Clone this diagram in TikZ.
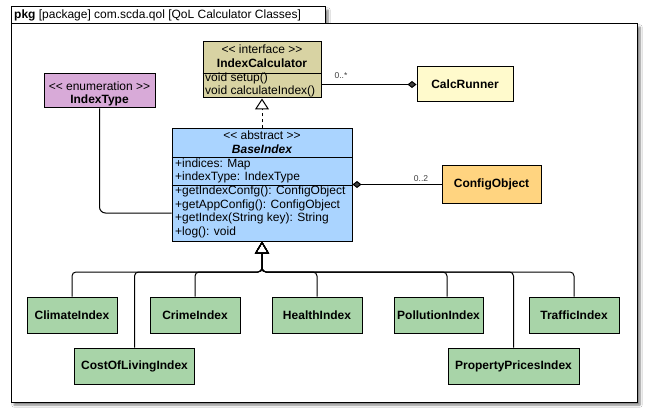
\documentclass[tikz,border=0pt]{standalone}
\usepackage{fontspec}
\setmainfont{Liberation Sans}
\usetikzlibrary{arrows.meta,shadows.blur}
\definecolor{ifcol}{RGB}{216,211,163}
\definecolor{runcol}{RGB}{255,250,204}
\definecolor{enumcol}{RGB}{216,170,216}
\definecolor{abscol}{RGB}{170,212,255}
\definecolor{cfgcol}{RGB}{255,212,128}
\definecolor{leafcol}{RGB}{168,212,168}
\begin{document}
\begin{tikzpicture}[x=1pt,y=-1pt,
  font=\fontsize{12}{14}\selectfont,
  box/.style={draw=black, line width=1pt, inner sep=0pt},
  leaf/.style={box, fill=leafcol, minimum height=36pt, font=\bfseries\fontsize{12}{14}\selectfont},
  txt/.style={inner sep=0pt},
  mem/.style={inner sep=0pt, anchor=west},
  lbl/.style={inner sep=0pt, font=\fontsize{8.5}{10}\selectfont, text=black!75},
  wire/.style={line width=1pt},
  gen/.style={wire, rounded corners=4pt, -{Triangle[open,length=12pt,width=14pt]}},
]
\fill[white] (0,0) rectangle (648,417);
\useasboundingbox (0,0) rectangle (648,417);
% package frame
\path[fill=white, blur shadow={shadow xshift=3pt, shadow yshift=-3pt, shadow blur steps=6, shadow opacity=50}]
  (11,7) -- (325,7) -- (325,24) -- (637,24) -- (637,402) -- (11,402) -- cycle;
\draw[line width=1pt] (11,7) -- (325,7) -- (325,24) -- (637,24) -- (637,402) -- (11,402) -- cycle;
\draw[line width=1pt] (11,24) -- (325,24);
\node[txt, anchor=west] (pkg) at (14,15.5) {\textbf{pkg} [package] com.scda.qol [QoL Calculator Classes]};

% IndexCalculator
\node[box, fill=ifcol, minimum width=118pt, minimum height=56pt] (ic) at (262,70) {};
\draw[line width=1pt] ([yshift=-32pt]ic.north west) -- ([yshift=-32pt]ic.north east);
\node[txt] (ics) at (262,49) {<{}< interface >{}>};
\node[txt, font=\bfseries\fontsize{12}{14}\selectfont] (icn) at (262,63) {IndexCalculator};
\node[mem] (icm1) at (205,78.5) {void setup()};
\node[mem] (icm2) at (205,91.5) {void calculateIndex()};

% CalcRunner
\node[box, fill=runcol, minimum width=96pt, minimum height=35pt, font=\bfseries\fontsize{12}{14}\selectfont] (calc) at (465,84.5) {CalcRunner};

% IndexType
\node[box, fill=enumcol, minimum width=111pt, minimum height=34pt] (itype) at (99.5,91) {};
\node[txt] (its) at (99.5,86) {<{}< enumeration >{}>};
\node[txt, font=\bfseries\fontsize{12}{14}\selectfont] (itn) at (99.5,100) {IndexType};

% BaseIndex
\node[box, fill=abscol, minimum width=180pt, minimum height=112pt] (base) at (262,185) {};
\draw[line width=1pt] ([yshift=-29pt]base.north west) -- ([yshift=-29pt]base.north east);
\draw[line width=1pt] ([yshift=-57pt]base.north west) -- ([yshift=-57pt]base.north east);
\node[txt] (bs) at (262,135.5) {<{}< abstract >{}>};
\node[txt, font=\bfseries\itshape\fontsize{12}{14}\selectfont] (bn) at (262,149.5) {BaseIndex};
\node[mem] (ba1) at (175,164) {+indices: Map};
\node[mem] (ba2) at (175,177.5) {+indexType: IndexType};
\node[mem] (bm1) at (175,191.5) {+getIndexConfg(): ConfigObject};
\node[mem] (bm2) at (175,205) {+getAppConfig(): ConfigObject};
\node[mem] (bm3) at (175,218.5) {+getIndex(String key): String};
\node[mem] (bm4) at (175,232) {+log(): void};

% ConfigObject
\node[box, fill=cfgcol, minimum width=99pt, minimum height=37pt, font=\bfseries\fontsize{12}{14}\selectfont] (cfg) at (491.5,184.5) {ConfigObject};

% leaves
\node[leaf, minimum width=90pt] (clim) at (72,315) {ClimateIndex};
\node[leaf, minimum width=90pt] (crime) at (195,315) {CrimeIndex};
\node[leaf, minimum width=90pt] (health) at (317,315) {HealthIndex};
\node[leaf, minimum width=89pt] (poll) at (438.5,315) {PollutionIndex};
\node[leaf, minimum width=90pt] (traf) at (574,315) {TrafficIndex};
\node[leaf, minimum width=120pt] (cost) at (134.5,366) {CostOfLivingIndex};
\node[leaf, minimum width=131pt] (prop) at (513.5,366) {PropertyPricesIndex};

% connectors
\draw[wire, dash pattern=on 3pt off 3pt] (base.north) -- ([yshift=-11pt]ic.south);
\draw[wire, -{Triangle[open,length=11pt,width=14pt]}] ([yshift=-11.5pt]ic.south) -- (ic.south);

\draw[wire, -{Diamond[length=9pt,width=7pt]}] (calc.west -| ic.east) -- (calc.west);
\node[lbl] (l1) at (341,76) {0..*};

\draw[wire, {Diamond[length=9pt,width=7pt]}-] (cfg.west -| base.east) -- (cfg.west);
\node[lbl] (l2) at (421,179) {0..2};

\draw[wire, rounded corners=6pt] (itype.south) |- ([yshift=-28pt]base.west);

\coordinate (junc) at (262,272);
\draw[gen] (clim.north) |- (junc) -- (base.south);
\draw[gen] (cost.north) |- (junc) -- (base.south);
\draw[gen] (crime.north) |- (junc) -- (base.south);
\draw[gen] (health.north) |- (junc) -- (base.south);
\draw[gen] ([xshift=8.5pt]poll.north) |- (junc) -- (base.south);
\draw[gen] (prop.north) |- (junc) -- (base.south);
\draw[gen] (traf.north) |- (junc) -- (base.south);
\end{tikzpicture}
\end{document}
